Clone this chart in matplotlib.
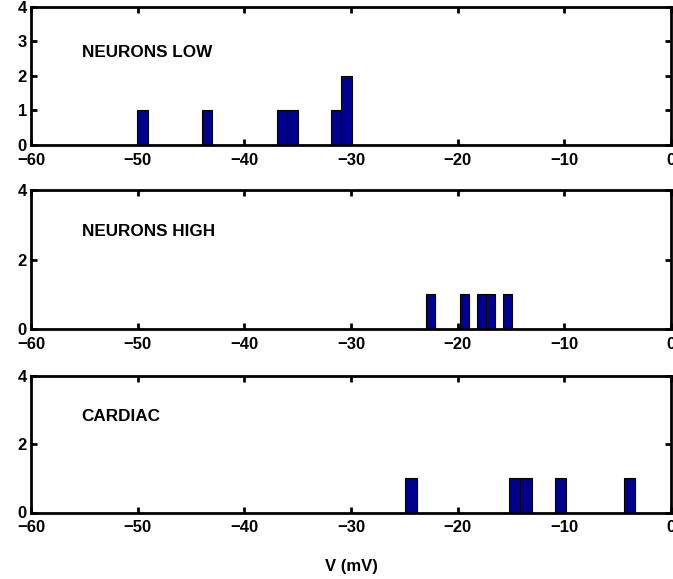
import matplotlib
matplotlib.use("Agg")
import matplotlib.pyplot as plt

plt.rcParams['font.family'] = ['Liberation Sans', 'DejaVu Sans']
plt.rcParams['font.weight'] = 'bold'

# Data (bin centres in mV and counts)
low_centers = [-49.53, -43.5, -36.46, -35.46, -31.42, -30.42]
low_counts = [1, 1, 1, 1, 1, 2]
low_width = 1.0

high_centers = [-22.57, -19.34, -17.74, -16.93, -15.35]
high_counts = [1, 1, 1, 1, 1]
high_width = 0.806

card_centers = [-24.37, -14.65, -13.58, -10.36, -3.9]
card_counts = [1, 1, 1, 1, 1]
card_width = 1.075

labels = ["NEURONS LOW", "NEURONS HIGH", "CARDIAC"]
label_y = [0.67, 0.70, 0.70]
xticks = [-60, -50, -40, -30, -20, -10, 0]
yticks_list = [[0, 1, 2, 3, 4], [0, 2, 4], [0, 2, 4]]
xlabel = "V (mV)"

fig = plt.figure(figsize=(6.73, 5.79), dpi=100)
W, H = 673, 579
left = 31 / W
width = (671 - 31) / W
boxes = [(6.6, 145.0), (190.3, 329.0), (376.0, 512.5)]

panels = [(low_centers, low_counts, low_width),
          (high_centers, high_counts, high_width),
          (card_centers, card_counts, card_width)]

for i, ((top, bot), (c, n, w)) in enumerate(zip(boxes, panels)):
    ax = fig.add_axes([left, 1 - bot / H, width, (bot - top) / H])
    ax.bar(c, n, width=w, color='#00008F', edgecolor='black', linewidth=0.8, zorder=2)
    ax.set_xlim(-60, 0)
    ax.set_ylim(0, 4)
    ax.set_xticks(xticks)
    ax.set_xticklabels(["\u2212" + str(abs(t)) if t < 0 else str(t) for t in xticks])
    ax.set_yticks(yticks_list[i])
    for s in ax.spines.values():
        s.set_linewidth(2.0)
    ax.tick_params(direction='in', length=4.5, width=2.0, top=True, right=True,
                   labelsize=12)
    ax.tick_params(axis='x', pad=5.5)
    ax.tick_params(axis='y', pad=3)
    for lab in ax.get_xticklabels() + ax.get_yticklabels():
        lab.set_fontweight('bold')
    ax.text(0.079, label_y[i], labels[i], transform=ax.transAxes, fontsize=12.3,
            fontweight='bold', va='center', ha='left')
    if i == 2:
        ax.set_xlabel(xlabel, fontsize=12, fontweight='bold', labelpad=17)

fig.savefig("out.png", dpi=100)
